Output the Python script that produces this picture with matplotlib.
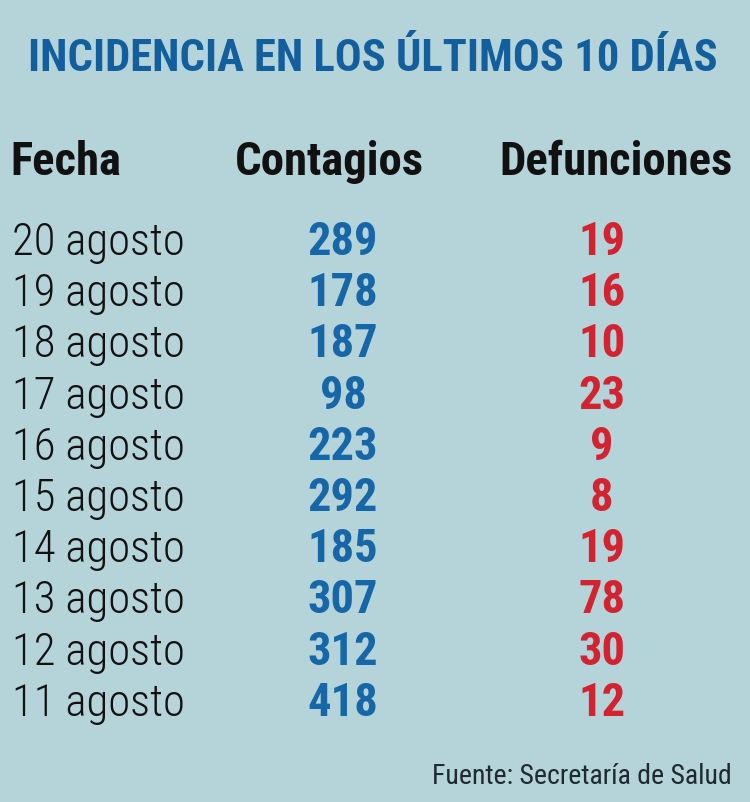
import matplotlib
matplotlib.use("Agg")
import matplotlib.pyplot as plt
from matplotlib import font_manager

fechas = ["20 agosto", "19 agosto", "18 agosto", "17 agosto", "16 agosto",
          "15 agosto", "14 agosto", "13 agosto", "12 agosto", "11 agosto"]
contagios = [289, 178, 187, 98, 223, 292, 185, 307, 312, 418]
defunciones = [19, 16, 10, 23, 9, 8, 19, 78, 30, 12]
columnas = ["Fecha", "Contagios", "Defunciones"]
titulo = "INCIDENCIA EN LOS ÚLTIMOS 10 DÍAS"
fuente = "Fuente: Secretaría de Salud"

# pick the narrowest family that is installed
ttf = font_manager.fontManager.ttflist
names = {f.name for f in ttf}
fam, stretch = "Liberation Sans", "normal"
for pref in ["Liberation Sans Narrow", "DejaVu Sans Condensed", "Roboto Condensed",
             "Open Sans Condensed", "Noto Sans Condensed"]:
    if pref in names:
        fam = pref
        break
else:
    for f in ttf:
        st = f.stretch
        narrow = (isinstance(st, str) and "condensed" in st) or (isinstance(st, int) and st < 500)
        if narrow and f.name in ("Noto Sans", "Open Sans", "Roboto", "Inter", "Lato"):
            fam, stretch = f.name, "condensed"
            break

W, H = 750, 802
fig = plt.figure(figsize=(W / 100, H / 100), dpi=100)
fig.patch.set_facecolor("#b4d4da")
renderer = fig.canvas.get_renderer()

def px(x, y):
    return x / W, 1 - y / H

def fit(texto, ancho, weight):
    # font size that gives the text the width seen in the reference
    t = fig.text(0, 0, texto, fontsize=20, fontweight=weight, family=fam, fontstretch=stretch)
    w = t.get_window_extent(renderer).width
    t.remove()
    return 20 * ancho / w

azul = "#1767a8"
rojo = "#d42330"
negro = "#111111"

fs_tit = fit(titulo, 690, "heavy")
fs_col = fit(columnas[2], 233, "bold")
fs_fecha = fit(fechas[0], 173, "light")
fs_num = fit("289", 71, "bold")
fs_fte = fit(fuente, 300, "normal")

fig.text(*px(373, 71), titulo, ha="center", va="baseline", fontsize=fs_tit,
         fontweight="heavy", color="#135f9e", family=fam, fontstretch=stretch)

fig.text(*px(10, 175), columnas[0], ha="left", va="baseline", fontsize=fs_col,
         fontweight="bold", color=negro, family=fam, fontstretch=stretch)
fig.text(*px(329, 175), columnas[1], ha="center", va="baseline", fontsize=fs_col,
         fontweight="bold", color=negro, family=fam, fontstretch=stretch)
fig.text(*px(616, 175), columnas[2], ha="center", va="baseline", fontsize=fs_col,
         fontweight="bold", color=negro, family=fam, fontstretch=stretch)

y0, dy = 255, 51.2
for i, (f, c, d) in enumerate(zip(fechas, contagios, defunciones)):
    y = y0 + i * dy
    fig.text(*px(12, y), f, ha="left", va="baseline", fontsize=fs_fecha,
             fontweight="light", color=negro, family=fam, fontstretch=stretch)
    fig.text(*px(343, y), str(c), ha="center", va="baseline", fontsize=fs_num,
             fontweight="bold", color=azul, family=fam, fontstretch=stretch)
    fig.text(*px(602, y), str(d), ha="center", va="baseline", fontsize=fs_num,
             fontweight="bold", color=rojo, family=fam, fontstretch=stretch)

fig.text(*px(732, 784), fuente, ha="right", va="baseline", fontsize=fs_fte,
         fontweight="normal", color="#1e2a30", family=fam, fontstretch=stretch)

fig.savefig("out.png", dpi=100, facecolor=fig.get_facecolor())
